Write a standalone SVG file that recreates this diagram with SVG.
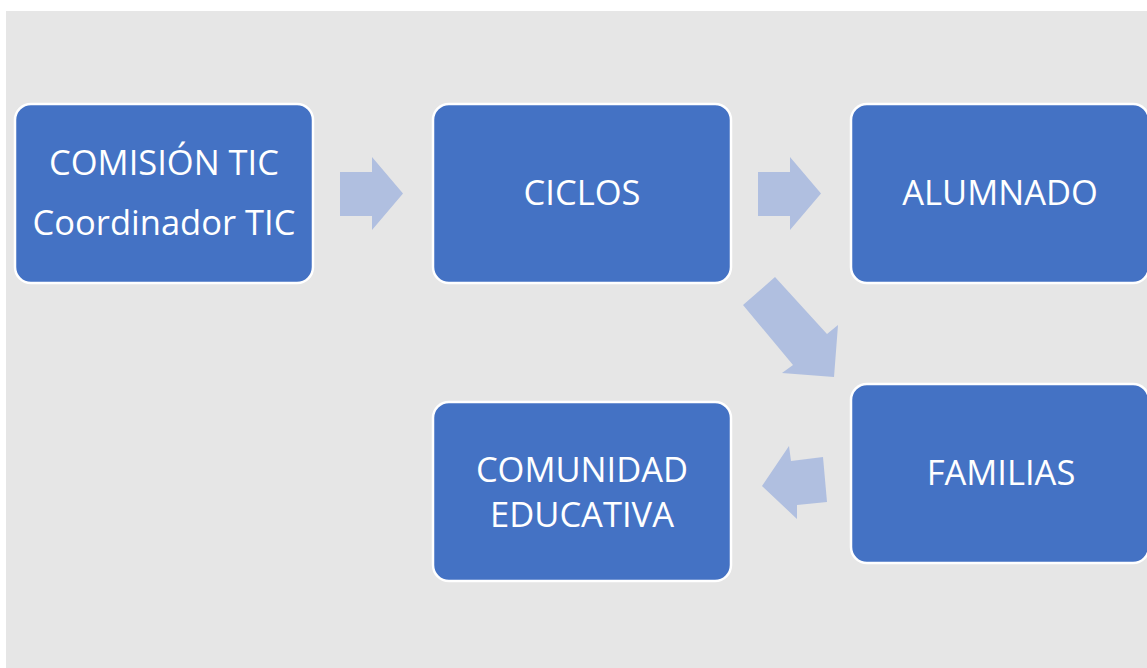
<svg xmlns="http://www.w3.org/2000/svg" width="1147" height="668" viewBox="0 0 1147 668">
<style>
.box{fill:#4472C4;stroke:#ffffff;stroke-width:2.5}
.lbl{font-family:"Open Sans","Liberation Sans",sans-serif;font-size:34.5px;fill:#ffffff;text-anchor:middle}
.arr{fill:#B0BFE0}
</style>
<rect x="0" y="0" width="1147" height="668" fill="#ffffff"/>
<rect x="6" y="11" width="1141" height="657" fill="#E6E6E6"/>
<g id="connectors">
<polygon class="arr" points="340,172 372,172 372,157 403,193.5 372,230 372,216 340,216"/>
<polygon class="arr" points="758,172 790,172 790,157 821,193.5 790,230 790,216 758,216"/>
<polygon class="arr" points="743,305 775,277 827,334 838,325 834,377 782,373 793,365"/>
<polygon class="arr" points="762,486 789,446 791,461 823,457 827,502 797,505 797,519"/>
</g>
<g id="node-comision">
<rect class="box" x="15" y="104" width="298" height="179" rx="16"/>
<text class="lbl" x="164" y="175">COMISIÓN TIC</text>
<text class="lbl" x="164" y="235">Coordinador TIC</text>
</g>
<g id="node-ciclos">
<rect class="box" x="433" y="104" width="298" height="179" rx="16"/>
<text class="lbl" x="582" y="205">CICLOS</text>
</g>
<g id="node-alumnado">
<rect class="box" x="851" y="104" width="298" height="179" rx="16"/>
<text class="lbl" x="1000" y="205">ALUMNADO</text>
</g>
<g id="node-familias">
<rect class="box" x="851" y="384" width="298" height="179" rx="16"/>
<text class="lbl" x="1001" y="485">FAMILIAS</text>
</g>
<g id="node-comunidad">
<rect class="box" x="433" y="402" width="298" height="179" rx="16"/>
<text class="lbl" x="582" y="482">COMUNIDAD</text>
<text class="lbl" x="582" y="527">EDUCATIVA</text>
</g>
</svg>
